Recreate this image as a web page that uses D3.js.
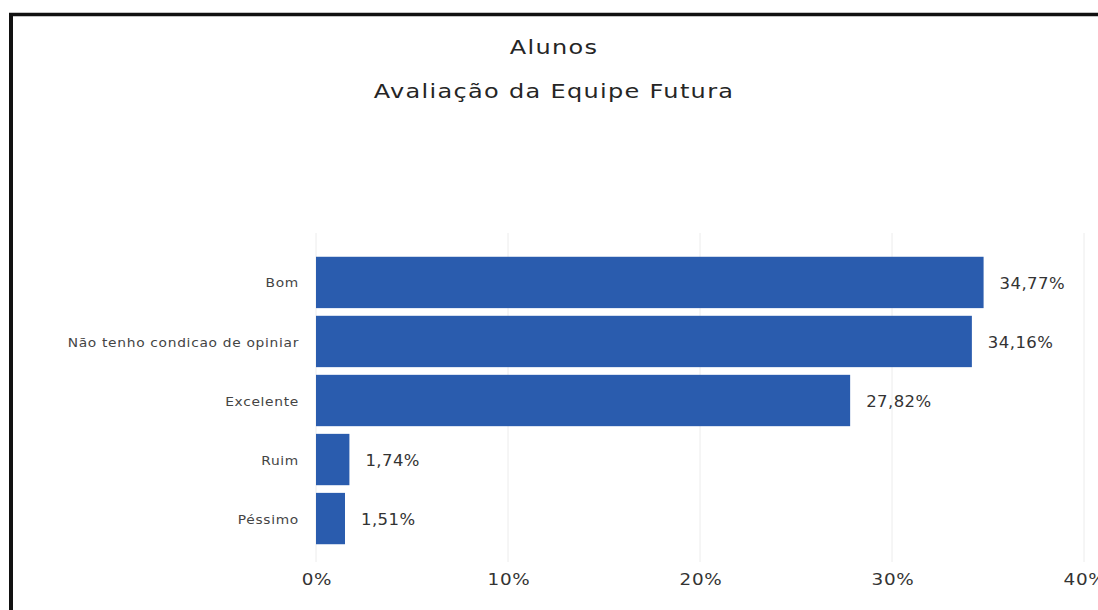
<!DOCTYPE html>
<html>
<head>
<meta charset="utf-8">
<script src="https://cdn.jsdelivr.net/npm/d3@7"></script>
<style>
  html, body { margin: 0; padding: 0; background: #fff; }
  svg { display: block; }
</style>
</head>
<body>
<svg id="chart" width="1098" height="610"></svg>
<script>
const categories = ["Bom", "Não tenho condicao de opiniar", "Excelente", "Ruim", "Péssimo"];
const values = [34.77, 34.16, 27.82, 1.74, 1.51];
const valueLabels = ["34,77%", "34,16%", "27,82%", "1,74%", "1,51%"];
const tickValues = [0, 10, 20, 30, 40];
const titleLines = ["Alunos", "Avaliação da Equipe Futura"];

const svg = d3.select("#chart");
const W = 1098, H = 610;
const font = "'DejaVu Sans', 'Noto Sans', sans-serif";

svg.append("rect").attr("width", W).attr("height", H).attr("fill", "#fff");

// frame lines (top & left)
svg.append("line").attr("x1", 9).attr("x2", W).attr("y1", 14.5).attr("y2", 14.5)
  .attr("stroke", "#111").attr("stroke-width", 3.5);
svg.append("line").attr("x1", 11).attr("x2", 11).attr("y1", 13).attr("y2", H)
  .attr("stroke", "#111").attr("stroke-width", 4);

// titles
svg.selectAll("text.title").data(titleLines).join("text")
  .attr("class", "title")
  .attr("transform", (d, i) => `translate(554,${54 + i * 44}) scale(1.2,1)`)
  .attr("text-anchor", "middle")
  .attr("font-family", font)
  .attr("font-size", 20)
  .attr("letter-spacing", 1.1)
  .attr("fill", "#252525")
  .text(d => d);

const x = d3.scaleLinear().domain([0, 40]).range([316, 1084]);
const y = d3.scaleBand().domain(categories).range([255, 546]).paddingInner(0.13).paddingOuter(0.03);

// gridlines
svg.append("g").selectAll("line").data(tickValues).join("line")
  .attr("x1", d => x(d)).attr("x2", d => x(d))
  .attr("y1", 233).attr("y2", 562)
  .attr("stroke", "#ececec").attr("stroke-width", 1);

// x axis labels
const xAxis = d3.axisBottom(x).tickValues(tickValues).tickFormat(d => d + "%").tickSize(0).tickPadding(0);
const gx = svg.append("g").attr("transform", "translate(0.5,585)").call(xAxis);
gx.select(".domain").remove();
gx.selectAll("text")
  .attr("font-family", font).attr("font-size", 16).attr("fill", "#333")
  .attr("letter-spacing", 0.6).attr("dy", "0")
  .attr("transform", "scale(1.15,1)");

// y axis labels
const yAxis = d3.axisLeft(y).tickSize(0).tickPadding(0);
const gy = svg.append("g").attr("transform", "translate(299,0)").call(yAxis);
gy.select(".domain").remove();
gy.selectAll("text")
  .attr("font-family", font).attr("font-size", 12).attr("fill", "#444")
  .attr("letter-spacing", 0.6).attr("dy", "0.42em")
  .attr("transform", "scale(1.15,1)");

// bars
svg.append("g").selectAll("rect").data(values).join("rect")
  .attr("x", x(0))
  .attr("y", (d, i) => y(categories[i]))
  .attr("width", d => x(d) - x(0))
  .attr("height", y.bandwidth())
  .attr("fill", "#2a5cae");

// value labels
svg.append("g").selectAll("text").data(values).join("text")
  .attr("transform", (d, i) => `translate(${x(d) + 16},${y(categories[i]) + y.bandwidth() / 2}) scale(1.1,1)`)
  .attr("dy", "0.42em")
  .attr("font-family", font).attr("font-size", 15).attr("fill", "#333")
  .attr("letter-spacing", 0.4)
  .text((d, i) => valueLabels[i]);
</script>
</body>
</html>
